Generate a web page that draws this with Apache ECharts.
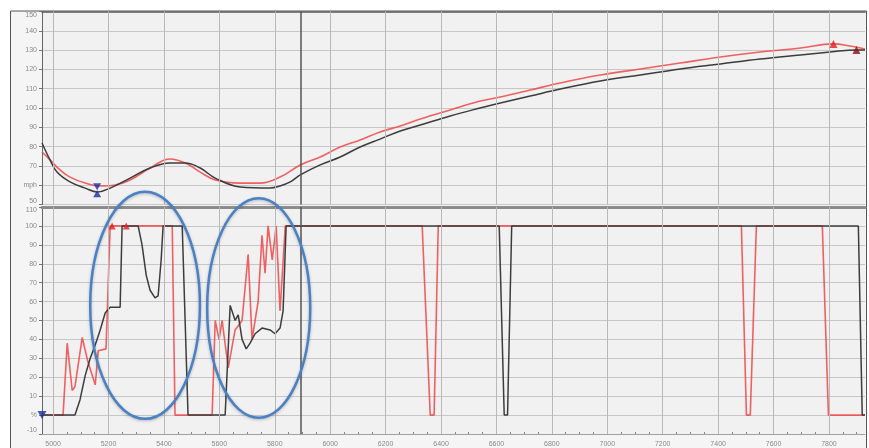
<!DOCTYPE html>
<html><head><meta charset="utf-8">
<script src="https://cdn.jsdelivr.net/npm/echarts@6/dist/echarts.min.js"></script>
<style>html,body{margin:0;padding:0;background:#fff}#c{width:869px;height:448px}</style>
</head><body><div id="c"></div>
<script>
const xTicks = [5000,5200,5400,5600,5800,6000,6200,6400,6600,6800,7000,7200,7400,7600,7800];
const cursorX = 5895;
const speedRed = [[4960,77.2],[4989,73.1],[5025,67.9],[5061,64.2],[5116,61.1],[5170,59.6],[5224,60.1],[5278,62.7],[5350,68.9],[5422,73.6],[5477,71.5],[5531,66.8],[5585,62.7],[5675,61.1],[5747,61.1],[5819,64.2],[5892,70.5],[5964,74.6],[6036,79.8],[6108,83.4],[6180,87.6],[6253,90.7],[6325,94.3],[6433,99.0],[6541,103.6],[6614,105.7],[6722,109.3],[6830,113.0],[6975,117.1],[7119,120.2],[7263,123.3],[7408,126.4],[7552,129.0],[7697,131.1],[7816,133.2],[7877,132.1],[7930,130.6]];
const speedBlack = [[4960,81.9],[4989,73.1],[5014,66.8],[5061,61.7],[5116,58.5],[5159,56.5],[5206,58.5],[5278,63.7],[5350,68.9],[5422,71.5],[5477,71.5],[5531,68.9],[5585,63.7],[5675,59.1],[5783,58.5],[5819,59.6],[5856,61.7],[5892,65.3],[5964,70.5],[6036,74.6],[6108,79.8],[6180,83.9],[6253,88.1],[6325,91.2],[6433,95.9],[6541,100.0],[6614,102.6],[6722,106.2],[6830,109.8],[6975,114.0],[7119,117.1],[7263,120.2],[7408,122.8],[7552,125.4],[7697,127.5],[7805,129.0],[7899,130.1],[7930,130.1]];
const throttleRed = [[4960,0],[5036,0],[5051,38],[5069,13],[5079,15],[5105,41],[5126,28],[5152,16],[5163,34],[5191,35],[5206,100],[5430,100],[5440,0],[5574,0],[5585,50],[5599,40],[5610,50],[5632,25],[5657,45],[5682,50],[5704,85],[5718,40],[5740,60],[5754,95],[5765,75],[5776,100],[5791,82],[5805,100],[5819,55],[5838,100],[6332,100],[6361,0],[6375,0],[6390,100],[7484,100],[7502,0],[7516,0],[7538,100],[7776,100],[7798,0],[7930,0]];
const throttleBlack = [[4960,0],[5079,0],[5097,8],[5116,21],[5134,30],[5152,37],[5170,45],[5188,54],[5206,57],[5242,57],[5249,100],[5307,100],[5321,90],[5336,74],[5350,66],[5368,62],[5379,63],[5390,82],[5397,100],[5466,100],[5487,0],[5621,0],[5639,58],[5657,50],[5668,53],[5682,40],[5697,35],[5711,38],[5729,43],[5754,46],[5783,45],[5801,43],[5819,46],[5830,55],[5841,100],[6610,100],[6628,0],[6640,0],[6655,100],[7906,100],[7920,0],[7930,0]];
const speedMarkRed = [[7816,133.2]];
const speedMarkDark = [[7899,130.1]];
const speedMarkBlueTop = [[5159,59.2]];
const speedMarkBlueBottom = [[5159,55.6]];
const throttleMarkRed = [[5213,100],[5264,100]];
const throttleMarkBlue = [[4960,0]];
const noteEllipses = [{cx:5332,cy:58,rx:198,ry:60},{cx:5742,cy:56.6,rx:186,ry:58}];

const X_MIN = 4960, X_MAX = 7930;
const minorTicks = [];
xTicks.forEach(t => { [t-150,t-100,t-50,t].forEach(v => { if (v >= X_MIN && v <= X_MAX) minorTicks.push(v); }); });
minorTicks.push(7850, 7900);

const FONT = 'Liberation Sans';
const labelStyle = {color:'#8a8a8a', fontSize:7, fontFamily:FONT};
const RED = 'rgba(240,70,70,0.85)', BLACK = '#3c3c3c';

const chart = echarts.init(document.getElementById('c'), null, {renderer:'canvas'});
const vGrid = () => ({silent:true, symbol:['none','none'], label:{show:false},
  lineStyle:{color:'#b9b9b9', width:1, type:'solid'},
  data: xTicks.map(v => ({xAxis:v})).concat([{xAxis:cursorX, lineStyle:{color:'#555', width:1.5}}])});

const option = {
  animation:false,
  backgroundColor:'#ffffff',
  grid:[
    {left:42, right:4, top:11.5, height:193, show:true, backgroundColor:'#f1f1f1', borderWidth:0},
    {left:42, right:4, top:207, height:227, show:true, backgroundColor:'#f1f1f1', borderWidth:0}
  ],
  xAxis:[
    {type:'value', gridIndex:0, min:X_MIN, max:X_MAX, position:'top',
     axisLine:{show:true, lineStyle:{color:'#555', width:1.5}}, axisTick:{show:false}, axisLabel:{show:false}, splitLine:{show:false}},
    {type:'value', gridIndex:1, min:X_MIN, max:X_MAX, position:'bottom',
     axisLine:{show:true, onZero:false, lineStyle:{color:'#a0a0a0', width:1}},
     axisTick:{show:true, customValues:minorTicks, length:2, inside:true, lineStyle:{color:'#888'}},
     axisLabel:Object.assign({customValues:xTicks, margin:7, formatter:v => String(v)}, labelStyle), splitLine:{show:false}},
    {type:'value', gridIndex:1, min:X_MIN, max:X_MAX, position:'top',
     axisLine:{show:true, onZero:false, lineStyle:{color:'#8c8c8c', width:3}}, axisTick:{show:false}, axisLabel:{show:false}, splitLine:{show:false}}
  ],
  yAxis:[
    {type:'value', gridIndex:0, min:50, max:150, interval:10,
     axisLine:{show:true, lineStyle:{color:'#666', width:1}}, axisTick:{show:true, length:3, lineStyle:{color:'#777'}},
     axisLabel:Object.assign({margin:5, formatter:v => v===60 ? 'mph' : String(v), verticalAlignMaxLabel:'top', verticalAlignMinLabel:'bottom'}, labelStyle),
     splitLine:{show:true, lineStyle:{color:'#c6c6c6', width:1}}},
    {type:'value', gridIndex:1, min:-10, max:110, interval:10,
     axisLine:{show:true, onZero:false, lineStyle:{color:'#666', width:1}}, axisTick:{show:true, length:3, lineStyle:{color:'#777'}},
     axisLabel:Object.assign({margin:5, formatter:v => v===0 ? '%' : String(v), verticalAlignMaxLabel:'top', verticalAlignMinLabel:'bottom'}, labelStyle),
     splitLine:{show:true, lineStyle:{color:'#c6c6c6', width:1}}}
  ],
  series:[
    {type:'line', xAxisIndex:0, yAxisIndex:0, data:speedRed, showSymbol:false, smooth:0.4, lineStyle:{color:RED, width:1.6}, z:3, markLine:vGrid()},
    {type:'line', xAxisIndex:0, yAxisIndex:0, data:speedBlack, showSymbol:false, smooth:0.4, lineStyle:{color:BLACK, width:1.5}, z:4},
    {type:'line', xAxisIndex:1, yAxisIndex:1, data:throttleRed, showSymbol:false, lineStyle:{color:RED, width:1.6}, z:3, markLine:vGrid()},
    {type:'line', xAxisIndex:1, yAxisIndex:1, data:throttleBlack, showSymbol:false, lineStyle:{color:BLACK, width:1.5}, z:4},
    {type:'scatter', xAxisIndex:0, yAxisIndex:0, data:speedMarkRed, symbol:'triangle', symbolSize:8, itemStyle:{color:'#e02020'}, z:6},
    {type:'scatter', xAxisIndex:0, yAxisIndex:0, data:speedMarkDark, symbol:'triangle', symbolSize:8, itemStyle:{color:'#8a1010'}, z:6},
    {type:'scatter', xAxisIndex:0, yAxisIndex:0, data:speedMarkBlueTop, symbol:'triangle', symbolRotate:180, symbolSize:[8,7], itemStyle:{color:'#1a2fa0'}, z:6},
    {type:'scatter', xAxisIndex:0, yAxisIndex:0, data:speedMarkBlueBottom, symbol:'triangle', symbolSize:[8,7], itemStyle:{color:'#1a2fa0'}, z:6},
    {type:'scatter', xAxisIndex:1, yAxisIndex:1, data:throttleMarkRed, symbol:'triangle', symbolSize:7, itemStyle:{color:'#e02020'}, z:6},
    {type:'scatter', xAxisIndex:1, yAxisIndex:1, data:throttleMarkBlue, symbol:'triangle', symbolRotate:180, symbolSize:[9,8], itemStyle:{color:'#1a2fa0'}, z:6}
  ],
  graphic:[
    {id:'frame', type:'rect', z:-100, silent:true, shape:{x:10.5, y:11, width:856, height:460},
     style:{fill:'#f5f5f5', stroke:'#555', lineWidth:1}}
  ]
};
chart.setOption(option);

const ell = noteEllipses.map((e, i) => {
  const c = chart.convertToPixel({gridIndex:1}, [e.cx, e.cy]);
  const p = chart.convertToPixel({gridIndex:1}, [e.cx + e.rx, e.cy + e.ry]);
  return {id:'ell'+i, type:'ellipse', z:100, silent:true,
    shape:{cx:c[0], cy:c[1], rx:Math.abs(p[0]-c[0]), ry:Math.abs(c[1]-p[1])},
    style:{fill:'none', stroke:'#4a80c4', lineWidth:2.5, shadowBlur:3, shadowColor:'rgba(0,0,0,0.25)', shadowOffsetY:1}};
});
chart.setOption({graphic:ell});
</script></body></html>
